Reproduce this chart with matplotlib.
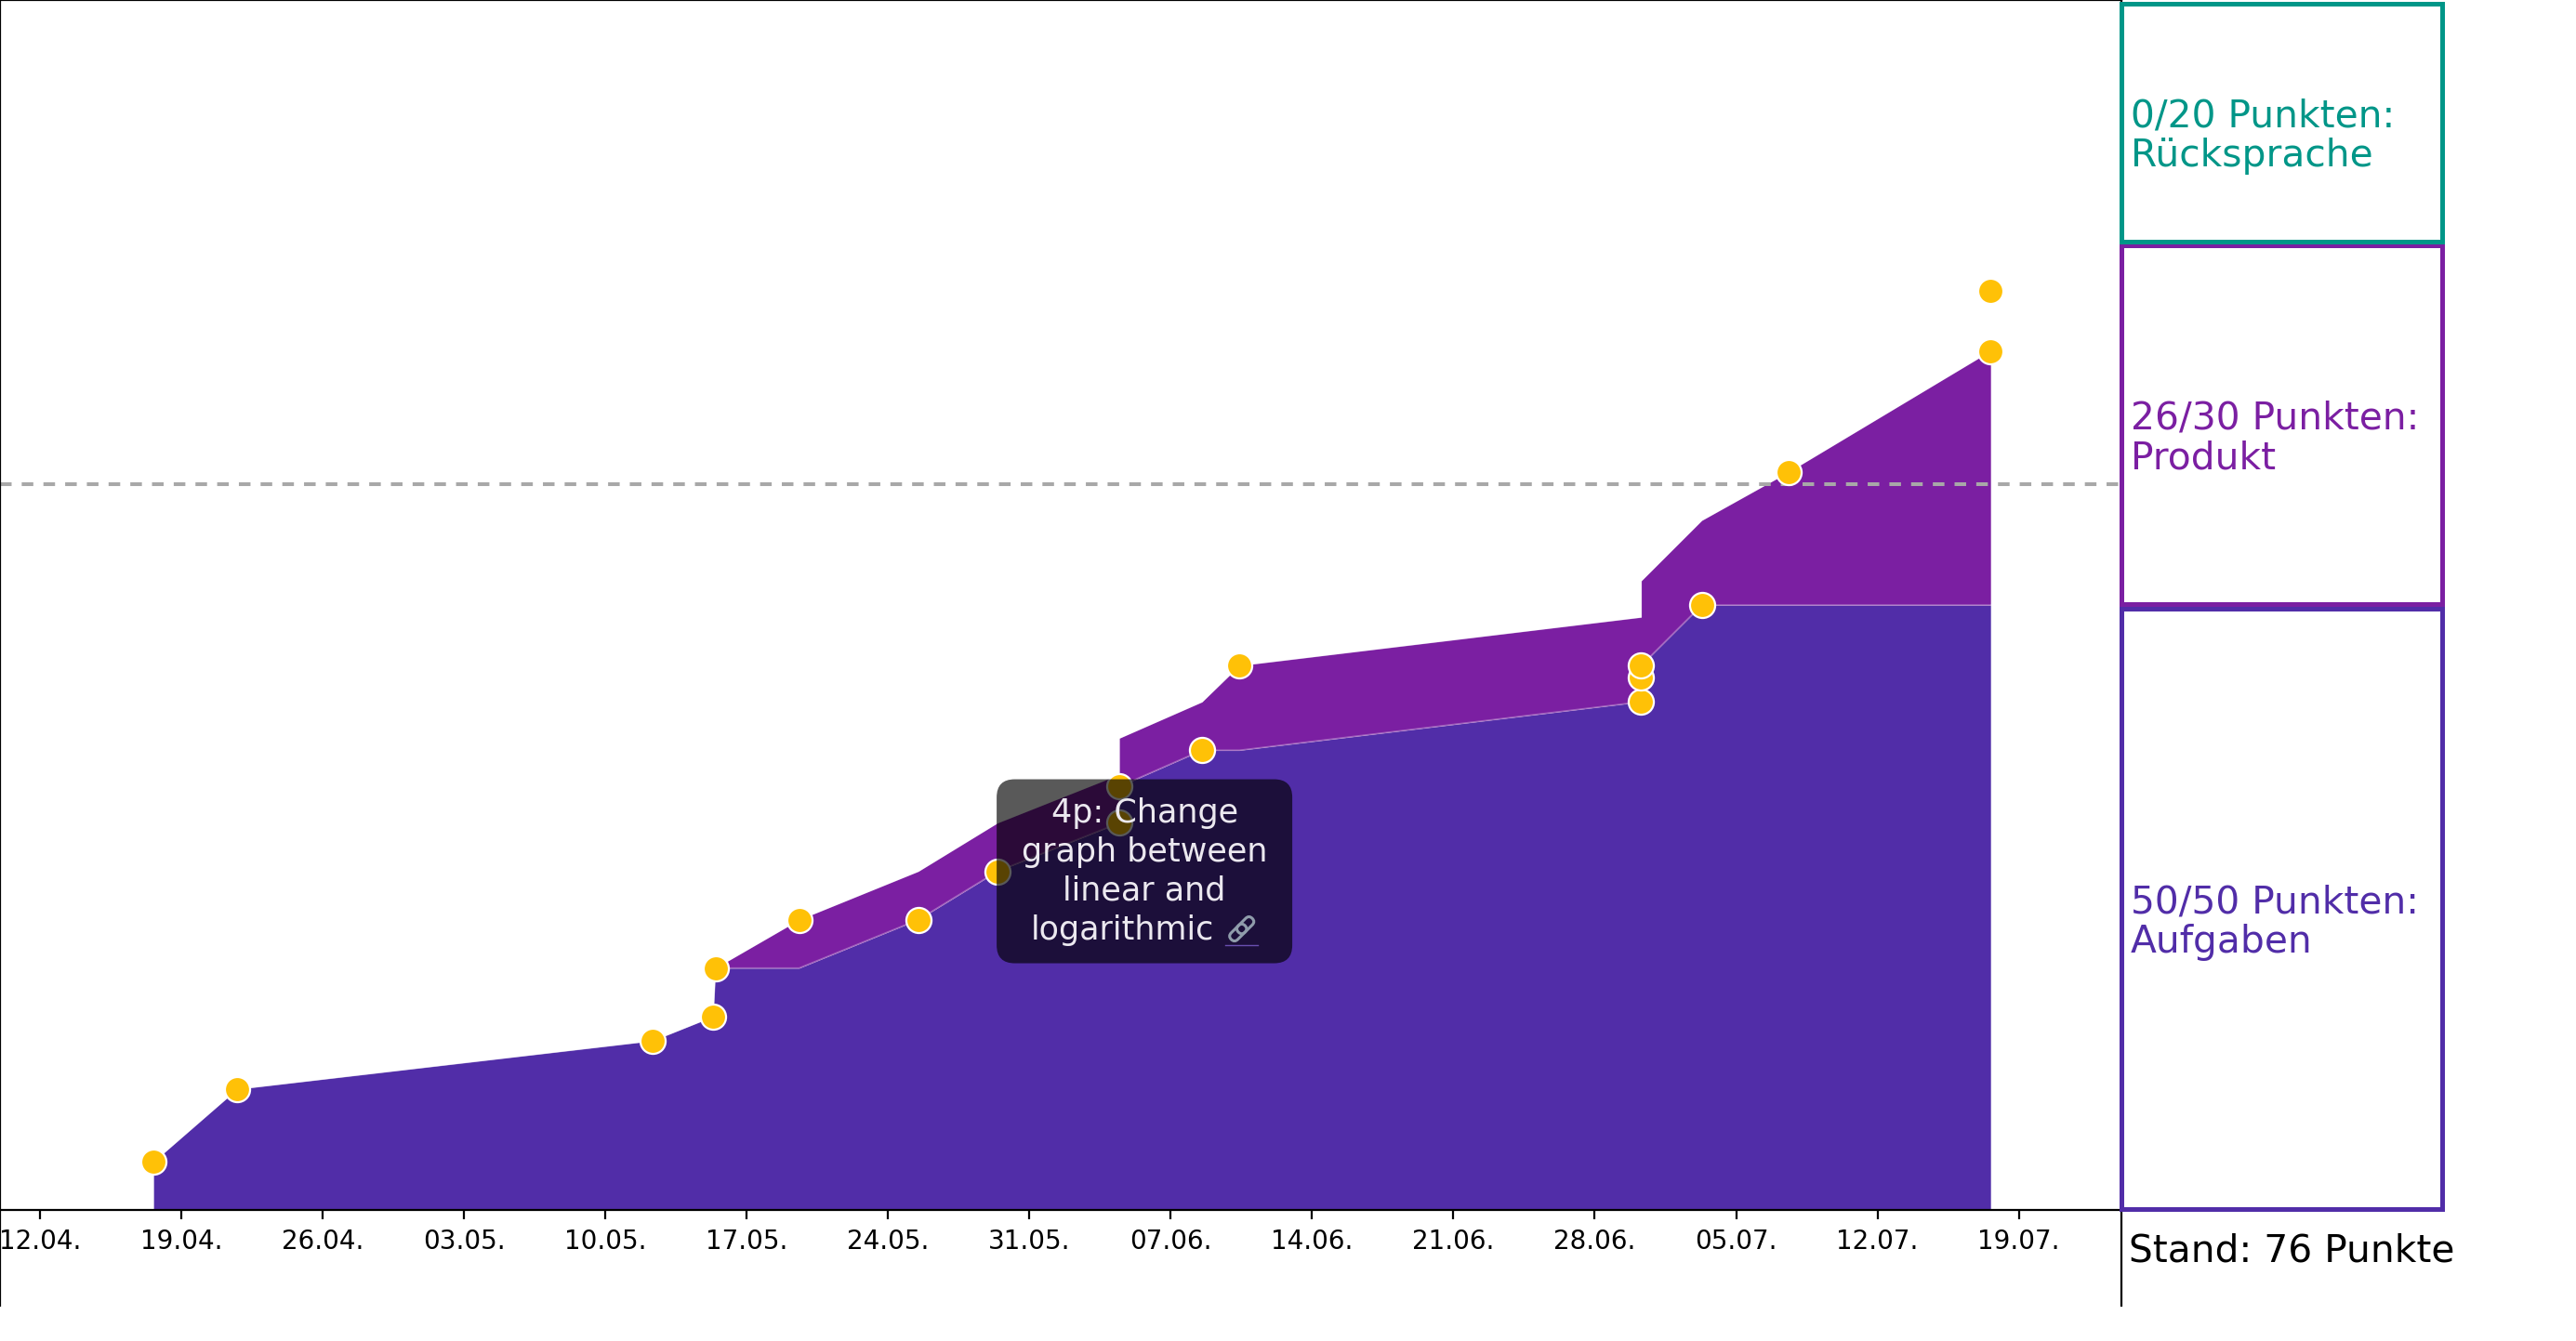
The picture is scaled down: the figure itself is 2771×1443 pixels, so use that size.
import matplotlib
matplotlib.use("Agg")
import matplotlib.pyplot as plt
import matplotlib.dates as mdates
import matplotlib.transforms as mtransforms
from matplotlib.patches import Rectangle, FancyBboxPatch
from matplotlib.font_manager import FontProperties
import numpy as np
from datetime import datetime

# ---------------- data ----------------
event_times = [
    "2021-04-17 15:00", "2021-04-21 18:15", "2021-05-12 08:10", "2021-05-15 08:00",
    "2021-05-15 10:50", "2021-05-19 14:25", "2021-05-25 12:00", "2021-05-29 10:05",
    "2021-06-04 10:50", "2021-06-04 10:50", "2021-06-08 13:10", "2021-06-10 09:35",
    "2021-06-30 07:10", "2021-06-30 07:10", "2021-06-30 07:10", "2021-07-03 07:10",
    "2021-07-07 14:25", "2021-07-17 14:25", "2021-07-17 14:25",
]
event_categories = [
    "Aufgaben", "Aufgaben", "Aufgaben", "Aufgaben",
    "Aufgaben", "Produkt", "Aufgaben", "Aufgaben",
    "Aufgaben", "Aufgaben", "Aufgaben", "Produkt",
    "Aufgaben", "Aufgaben", "Aufgaben", "Aufgaben",
    "Produkt", "Produkt", "Produkt",
]
event_points = [4, 6, 4, 2, 4, 4, 4, 4, 4, 3, 3, 3, 4, 2, 1, 5, 4, 10, 5]

categories = ["Aufgaben", "Produkt", "Rücksprache"]
category_max = [50, 30, 20]
category_colors = ["#512da8", "#7b1fa2", "#009688"]
pass_threshold = 60

tick_dates = ["2021-04-12", "2021-04-19", "2021-04-26", "2021-05-03", "2021-05-10",
              "2021-05-17", "2021-05-24", "2021-05-31", "2021-06-07", "2021-06-14",
              "2021-06-21", "2021-06-28", "2021-07-05", "2021-07-12", "2021-07-19"]
x_range = ["2021-04-10 00:30", "2021-07-24 02:00"]

tooltip_lines = ["4p: Change", "graph between", "linear and", "logarithmic"]

# ---------------- computation ----------------
times = [datetime.strptime(t, "%Y-%m-%d %H:%M") for t in event_times]
x = mdates.date2num(times)
running = {c: 0 for c in categories}
cum = {c: [] for c in categories}
dot_y = []
for cat, pts in zip(event_categories, event_points):
    running[cat] += pts
    for c in categories:
        cum[c].append(running[c])
    idx = categories.index(cat)
    dot_y.append(sum(running[c] for c in categories[: idx + 1]))
total = sum(running.values())

# ---------------- figure ----------------
DPI = 200
fig = plt.figure(figsize=(2771 / DPI, 1443 / DPI), dpi=DPI)
ax = fig.add_axes([0.0, 1 - 1405 / 1443, 2282 / 2771, 1405 / 1443])

base = np.zeros(len(x))
for c, col in zip(categories, category_colors):
    top = base + np.array(cum[c], dtype=float)
    if np.any(top > base):
        ax.fill_between(x, base, top, color=col, lw=0, zorder=1)
        ax.plot(x, top, color="white", alpha=0.3, lw=0.6, zorder=1.5)
    base = top

ax.axhline(pass_threshold, color="#a8a8a8", lw=1.45, dashes=(3.1, 2.7), zorder=2)

ax.scatter(x, dot_y, s=95, c="#ffc107", edgecolors="white", linewidths=0.8,
           zorder=4, clip_on=False)

ax.set_xlim(mdates.date2num(datetime.strptime(x_range[0], "%Y-%m-%d %H:%M")),
            mdates.date2num(datetime.strptime(x_range[1], "%Y-%m-%d %H:%M")))
ax.set_ylim(-7.9, 100)
ax.spines["bottom"].set_position(("data", 0))
ax.set_yticks([])
ax.set_xticks(mdates.date2num([datetime.strptime(d, "%Y-%m-%d") for d in tick_dates]))
ax.xaxis.set_major_formatter(mdates.DateFormatter("%d.%m."))
ax.tick_params(axis="x", labelsize=10)

# ---------------- tooltip (hover box) ----------------
pt = DPI / 72.0
px2pt = 72.0 / DPI
anchor = mtransforms.ScaledTranslation(
    mdates.date2num(datetime(2021, 6, 5, 16, 48)), 28.0, ax.transData)
tip_trans = mtransforms.Affine2D().scale(pt) + anchor

box_w, box_h = 318 * px2pt, 198 * px2pt
ax.add_patch(FancyBboxPatch((-box_w / 2, -box_h / 2), box_w, box_h,
                            boxstyle="round,pad=0,rounding_size=7",
                            transform=tip_trans, fc=(0, 0, 0, 0.65), ec="none",
                            zorder=6, clip_on=False))
tip_fs = 12.6
tip_col = "#ebe8ef"
baselines_px = [53, 11, -31, -73]
for line, b in zip(tooltip_lines[:3], baselines_px[:3]):
    ax.text(0, b * px2pt, line, transform=tip_trans, ha="center", va="baseline",
            fontsize=tip_fs, color=tip_col, zorder=7, clip_on=False)

renderer = fig.canvas.get_renderer()
w_log, _, _ = renderer.get_text_width_height_descent(
    tooltip_lines[3], FontProperties(family="DejaVu Sans", size=tip_fs), ismath=False)
gap_px, icon_px = 12, 35
left_px = -(w_log + gap_px + icon_px) / 2
ax.text(left_px * px2pt, baselines_px[3] * px2pt, tooltip_lines[3], transform=tip_trans,
        ha="left", va="baseline", fontsize=tip_fs, color=tip_col, zorder=7, clip_on=False)

# link symbol (no installed font has the emoji glyph) drawn as two chain links
icx = (left_px + w_log + gap_px + icon_px / 2) * px2pt
icy = -62 * px2pt
L, W, off = 21 * px2pt, 10 * px2pt, 5.5 * px2pt
icon_trans = mtransforms.Affine2D().rotate_deg(45).translate(icx, icy).scale(pt) + anchor
for c0 in (-off, off):
    ax.add_patch(FancyBboxPatch((c0 - L / 2, -W / 2), L, W,
                                boxstyle=f"round,pad=0,rounding_size={W / 2}",
                                transform=icon_trans, fc="none", ec="#8f9cab",
                                lw=1.1, zorder=7, clip_on=False))
ax.plot([icx - icon_px / 2 * px2pt, icx + icon_px / 2 * px2pt], [-79 * px2pt] * 2,
        transform=mtransforms.Affine2D().scale(pt) + anchor, color="#6a4fb0",
        lw=0.5, zorder=7, clip_on=False)

# ---------------- right boxes ----------------
trans = mtransforms.blended_transform_factory(ax.transAxes, ax.transData)
bottom = 0
for c, mx, col in zip(categories, category_max, category_colors):
    rect = Rectangle((1.0, bottom + 0.05), 0.1514, mx - 0.35, transform=trans, fill=False,
                     edgecolor=col, lw=1.8, clip_on=False, zorder=5)
    ax.add_patch(rect)
    ax.text(1.0044, bottom + mx / 2 - 3.74, f"{running[c]}/{mx} Punkten:\n{c}",
            transform=trans, color=col, fontsize=14.7, ha="left", va="baseline",
            linespacing=1.08, clip_on=False, zorder=6)
    bottom += mx

ax.text(1.0035, -4.22, f"Stand: {total} Punkte", transform=trans, fontsize=14.7,
        ha="left", va="baseline", clip_on=False)

fig.savefig("out.png", dpi=DPI)
